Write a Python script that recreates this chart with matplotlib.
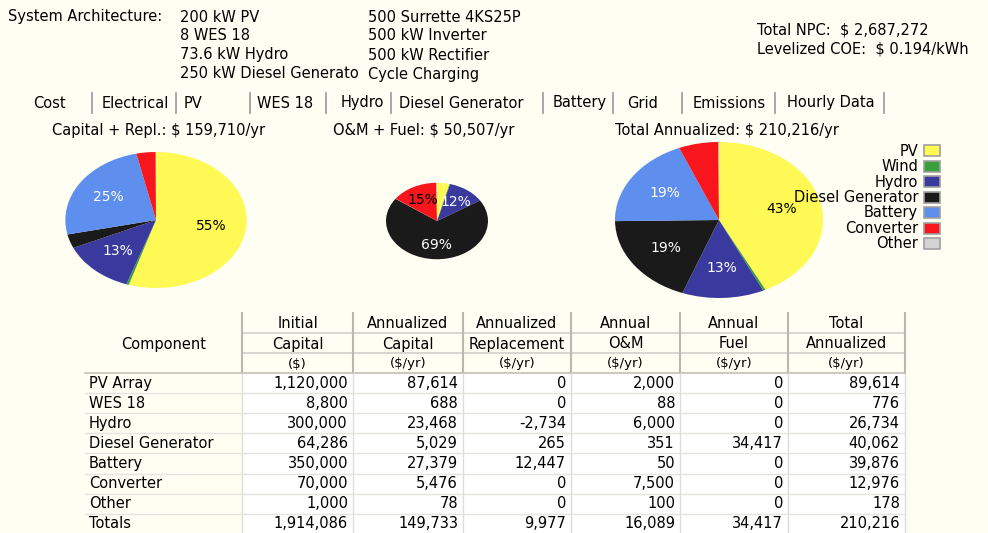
import numpy as np
import matplotlib.pyplot as plt
from matplotlib.patches import Rectangle

# Dados da tabela de custos
componentes = ["PV Array", "WES 18", "Hydro", "Diesel Generator", "Battery", "Converter", "Other"]
capital_inicial = [1120000, 8800, 300000, 64286, 350000, 70000, 1000]
capital_anual = [87614, 688, 23468, 5029, 27379, 5476, 78]
reposicao_anual = [0, 0, -2734, 265, 12447, 0, 0]
om_anual = [2000, 88, 6000, 351, 50, 7500, 100]
combustivel_anual = [0, 0, 0, 34417, 0, 0, 0]
total_anual = [89614, 776, 26734, 40062, 39876, 12976, 178]
totais = [1914086, 149733, 9977, 16089, 34417, 210216]

# Legenda e cores das fatias
legenda = ["PV", "Wind", "Hydro", "Diesel Generator", "Battery", "Converter", "Other"]
cores = ["#FFF955", "#3A9E3A", "#3A3A9E", "#1A1A1A", "#5E8EEE", "#F8161C", "#D4D4D4"]
cor_texto = ["black", "white", "white", "white", "white", "black", "black"]

# Valores das pizzas
cap_repl = np.array(capital_anual) + np.array(reposicao_anual)
om_fuel = np.array(om_anual) + np.array(combustivel_anual)
total = np.array(total_anual)

fundo = "#FEFEF2"
W, H = 988, 533
fig = plt.figure(figsize=(W / 100, H / 100), dpi=100)
fig.patch.set_facecolor(fundo)

# Eixo em pixels para textos e tabela
ax = fig.add_axes([0, 0, 1, 1])
ax.set_xlim(0, W)
ax.set_ylim(H, 0)
ax.axis("off")

fs = 10.5
fonte = "DejaVu Sans"

# Cabeçalho com a arquitetura do sistema
ax.text(8, 17, "System Architecture:", fontsize=fs, va="center", family=fonte)
esq = ["200 kW PV", "8 WES 18", "73.6 kW Hydro", "250 kW Diesel Generato"]
dir_ = ["500 Surrette 4KS25P", "500 kW Inverter", "500 kW Rectifier", "Cycle Charging"]
for i in range(4):
    ax.text(180, 17 + i * 19, esq[i], fontsize=fs, va="center", family=fonte)
    ax.text(368, 17 + i * 19, dir_[i], fontsize=fs, va="center", family=fonte)
ax.text(757, 30, "Total NPC:  $ 2,687,272", fontsize=fs, va="center", family=fonte)
ax.text(757, 49, "Levelized COE:  $ 0.194/kWh", fontsize=fs, va="center", family=fonte)

# Abas
abas = ["Cost", "Electrical", "PV", "WES 18", "Hydro", "Diesel Generator", "Battery", "Grid", "Emissions", "Hourly Data"]
abas_x = [33, 102, 184, 257, 341, 399, 553, 627, 693, 787]
separadores = [92, 176, 250, 326, 391, 543, 613, 682, 775, 884]
for nome, x in zip(abas, abas_x):
    ax.text(x, 103, nome, fontsize=fs, va="center", family=fonte)
for x in separadores:
    ax.plot([x, x], [93, 113], color="#A0A0A0", lw=1.3)
    ax.plot([x + 1.5, x + 1.5], [93, 113], color="white", lw=1)

# Subtítulos
ax.text(52, 130, "Capital + Repl.: $ 159,710/yr", fontsize=fs, va="center", family=fonte)
ax.text(333, 130, "O&M + Fuel: $ 50,507/yr", fontsize=fs, va="center", family=fonte)
ax.text(615, 130, "Total Annualized: $ 210,216/yr", fontsize=fs, va="center", family=fonte)

# Pizzas (área proporcional ao total)
centros = [(156, 220), (437, 221), (719, 220)]
dados = [cap_repl, om_fuel, total]
rx_max, ry_max = 104, 78
for (cx, cy), vals in zip(centros, dados):
    esc = np.sqrt(vals.sum() / total.sum())
    rx, ry = rx_max * esc, ry_max * esc
    pax = fig.add_axes([(cx - rx) / W, 1 - (cy + ry) / H, 2 * rx / W, 2 * ry / H])
    _, _, autotexts = pax.pie(vals, colors=cores, startangle=90, counterclock=False,
                              wedgeprops=dict(linewidth=0),
                              autopct=lambda p: f"{p:.0f}%" if p >= 10 else "",
                              pctdistance=0.62, textprops=dict(fontsize=10, family=fonte))
    for t, c in zip(autotexts, cor_texto):
        t.set_color(c)
    pax.set_aspect("auto")
    pax.set_xlim(-1, 1)
    pax.set_ylim(-1, 1)
    pax.axis("off")

# Legenda (em um eixo por cima das pizzas)
lax = fig.add_axes([0, 0, 1, 1])
lax.set_xlim(0, W)
lax.set_ylim(H, 0)
lax.axis("off")
for i, (nome, cor) in enumerate(zip(legenda, cores)):
    y = 151 + i * 15.5
    lax.text(918, y, nome, fontsize=fs, va="center", ha="right", family=fonte)
    lax.add_patch(Rectangle((924, y - 6), 16, 11, facecolor=cor, edgecolor="#A0A0A0", lw=1.2))

# Tabela
cols = [85, 242, 353, 463, 571, 680, 788, 905]
topo = 313
h_cab = 20
y_dados = 373
h_lin = 20.1
n = len(componentes) + 1

ax.add_patch(Rectangle((cols[1], y_dados), cols[-1] - cols[1], n * h_lin, facecolor="white", edgecolor="none"))

cab1 = ["Initial", "Annualized", "Annualized", "Annual", "Annual", "Total"]
cab2 = ["Capital", "Capital", "Replacement", "O&M", "Fuel", "Annualized"]
cab3 = ["($)", "($/yr)", "($/yr)", "($/yr)", "($/yr)", "($/yr)"]
for j in range(6):
    xc = (cols[j + 1] + cols[j + 2]) / 2
    ax.text(xc, topo + 11, cab1[j], fontsize=fs, ha="center", va="center", family=fonte)
    ax.text(xc, topo + 31, cab2[j], fontsize=fs, ha="center", va="center", family=fonte)
    ax.text(xc, topo + 51, cab3[j], fontsize=fs - 1, ha="center", va="center", family=fonte)
ax.text((cols[0] + cols[1]) / 2, topo + 31, "Component", fontsize=fs, ha="center", va="center", family=fonte)

# Linhas do cabeçalho
for y in [topo + h_cab, topo + 2 * h_cab]:
    ax.plot([cols[1], cols[-1]], [y, y], color="#D0D0C8", lw=1.2)
ax.plot([cols[0], cols[-1]], [y_dados, y_dados], color="#C0C0B8", lw=1.2)
for x in cols[1:]:
    ax.plot([x, x], [topo, y_dados], color="#B8B8B0", lw=1.5)
    ax.plot([x, x], [y_dados, y_dados + n * h_lin], color="#DCDCDC", lw=1)

# Linhas de dados
colunas = [capital_inicial, capital_anual, reposicao_anual, om_anual, combustivel_anual, total_anual]
linhas = [(componentes[i], [c[i] for c in colunas]) for i in range(len(componentes))]
linhas.append(("Totals", totais))
for i, (nome, valores) in enumerate(linhas):
    yc = y_dados + (i + 0.5) * h_lin
    if i > 0:
        ax.plot([cols[0], cols[-1]], [y_dados + i * h_lin] * 2, color="#E4E4E0", lw=1)
    ax.text(cols[0] + 4, yc, nome, fontsize=fs, va="center", family=fonte)
    for j, v in enumerate(valores):
        ax.text(cols[j + 2] - 5, yc, f"{v:,}", fontsize=fs, ha="right", va="center", family=fonte)

plt.savefig("out.png", dpi=100, facecolor=fundo)
